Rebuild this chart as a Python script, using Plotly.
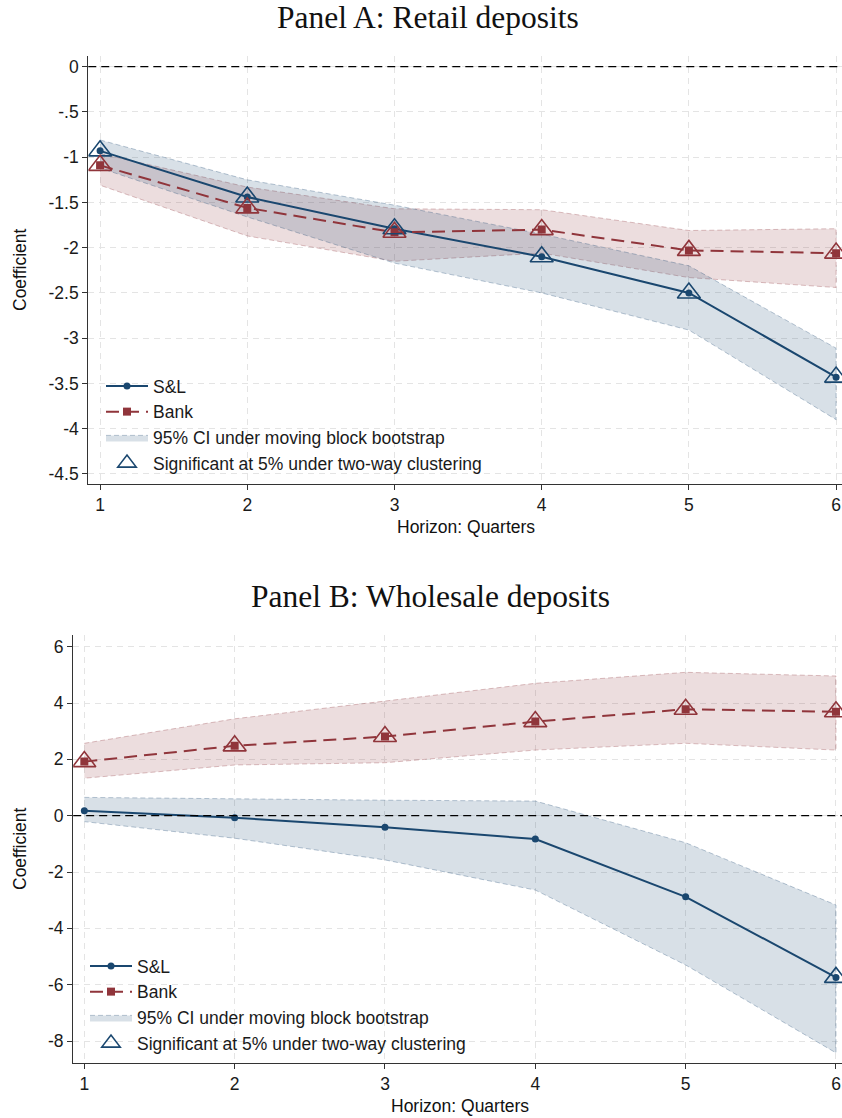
import plotly.graph_objects as go

# Horizon (quarters)
horizon = [1, 2, 3, 4, 5, 6]

# Panel A: retail deposits
retail_sl = [-0.93, -1.44, -1.79, -2.10, -2.50, -3.43]
retail_sl_lo = [-1.12, -1.66, -2.17, -2.50, -2.91, -3.90]
retail_sl_hi = [-0.81, -1.25, -1.53, -1.85, -2.20, -3.11]
retail_bank = [-1.09, -1.56, -1.83, -1.80, -2.03, -2.06]
retail_bank_lo = [-1.31, -1.87, -2.15, -2.06, -2.33, -2.44]
retail_bank_hi = [-0.96, -1.33, -1.57, -1.58, -1.81, -1.79]
retail_sl_sig = [1, 1, 1, 1, 1, 1]
retail_bank_sig = [1, 1, 1, 1, 1, 1]

# Panel B: wholesale deposits
whole_sl = [0.18, -0.07, -0.41, -0.83, -2.88, -5.74]
whole_sl_lo = [-0.21, -0.80, -1.57, -2.64, -5.30, -8.42]
whole_sl_hi = [0.65, 0.59, 0.55, 0.52, -0.96, -3.17]
whole_bank = [1.92, 2.48, 2.81, 3.34, 3.78, 3.69]
whole_bank_lo = [1.33, 1.80, 1.88, 2.33, 2.57, 2.33]
whole_bank_hi = [2.57, 3.44, 4.07, 4.70, 5.09, 4.96]
whole_sl_sig = [0, 0, 0, 0, 0, 1]
whole_bank_sig = [1, 1, 1, 1, 1, 1]

# Axis ticks
ticks_a = [0, -0.5, -1, -1.5, -2, -2.5, -3, -3.5, -4, -4.5]
ticklabels_a = ["0", "-.5", "-1", "-1.5", "-2", "-2.5", "-3", "-3.5", "-4", "-4.5"]
ticks_b = [6, 4, 2, 0, -2, -4, -6, -8]
ticklabels_b = ["6", "4", "2", "0", "-2", "-4", "-6", "-8"]

NAVY = "#1a476f"
MAROON = "#90353b"
NAVY_FILL = "rgba(26,71,111,0.17)"
MAROON_FILL = "rgba(144,53,59,0.17)"
NAVY_EDGE = "rgba(26,71,111,0.30)"
MAROON_EDGE = "rgba(144,53,59,0.30)"

W, H = 842, 1118
SANS = "Liberation Sans"
SERIF = "Liberation Serif"
FS = 17.5

fig = go.Figure()


def band(x, lo, hi, fill, edge, xa, ya, legend, show, name, rank):
    fig.add_trace(go.Scatter(
        x=list(x) + list(x)[::-1], y=list(hi) + list(lo)[::-1],
        fill="toself", fillcolor=fill, mode="lines",
        line=dict(color=edge, width=1, dash="5px,3px"),
        name=name, showlegend=show, legend=legend, legendrank=rank,
        legendgroup=legend + name, xaxis=xa, yaxis=ya, hoverinfo="skip"))


def series(x, y, color, dash, symbol, msize, xa, ya, legend, name, rank):
    fig.add_trace(go.Scatter(
        x=x, y=y, mode="lines+markers",
        line=dict(color=color, width=2, dash=dash),
        marker=dict(symbol=symbol, size=msize, color=color),
        name=name, legend=legend, legendrank=rank,
        legendgroup=legend + name, xaxis=xa, yaxis=ya))


def signif(x, y, flags, color, xa, ya, legend, show, name, rank):
    xs = [a for a, f in zip(x, flags) if f]
    ys = [b for b, f in zip(y, flags) if f]
    fig.add_trace(go.Scatter(
        x=xs, y=ys, mode="markers",
        marker=dict(symbol="triangle-up-open", size=20, color=color,
                    line=dict(width=1.6, color=color)),
        name=name, showlegend=show, legend=legend, legendrank=rank,
        legendgroup=legend + name + color, xaxis=xa, yaxis=ya))


SIG = "Significant at 5% under two-way clustering"
CI = "95% CI under moving block bootstrap"

# Panel A
band(horizon, retail_bank_lo, retail_bank_hi, MAROON_FILL, MAROON_EDGE, "x", "y", "legend", False, "Bank CI", 9)
band(horizon, retail_sl_lo, retail_sl_hi, NAVY_FILL, NAVY_EDGE, "x", "y", "legend", True, CI, 3)
series(horizon, retail_sl, NAVY, "solid", "circle", 7, "x", "y", "legend", "S&L", 1)
series(horizon, retail_bank, MAROON, "13px,7px", "square", 8, "x", "y", "legend", "Bank", 2)
signif(horizon, retail_sl, retail_sl_sig, NAVY, "x", "y", "legend", True, SIG, 4)
signif(horizon, retail_bank, retail_bank_sig, MAROON, "x", "y", "legend", False, SIG, 9)

# Panel B
band(horizon, whole_bank_lo, whole_bank_hi, MAROON_FILL, MAROON_EDGE, "x2", "y2", "legend2", False, "Bank CI", 9)
band(horizon, whole_sl_lo, whole_sl_hi, NAVY_FILL, NAVY_EDGE, "x2", "y2", "legend2", True, CI, 3)
series(horizon, whole_sl, NAVY, "solid", "circle", 7, "x2", "y2", "legend2", "S&L", 1)
series(horizon, whole_bank, MAROON, "13px,7px", "square", 8, "x2", "y2", "legend2", "Bank", 2)
signif(horizon, whole_sl, whole_sl_sig, NAVY, "x2", "y2", "legend2", True, SIG, 4)
signif(horizon, whole_bank, whole_bank_sig, MAROON, "x2", "y2", "legend2", False, SIG, 9)


def px_x(p):
    return p / W


def px_y(p):
    return 1 - p / H


axis_common = dict(
    showline=True, linecolor="#333333", linewidth=1.2,
    ticks="outside", ticklen=5, tickcolor="#333333", tickwidth=1.2,
    showgrid=True, gridcolor="#e4e4e4", gridwidth=1, griddash="6px,5px",
    zeroline=False, tickfont=dict(family=SANS, size=FS, color="#1a1a1a"),
)

legend_common = dict(
    xanchor="left", yanchor="top", bgcolor="rgba(0,0,0,0)",
    font=dict(family=SANS, size=FS, color="#1a1a1a"),
    itemwidth=42, tracegroupgap=0, traceorder="grouped",
)

fig.update_layout(
    width=W, height=H, margin=dict(l=0, r=0, t=0, b=0),
    plot_bgcolor="white", paper_bgcolor="white",
    xaxis=dict(axis_common, domain=[px_x(88.3), 1], range=[0.92, 6.04],
               tickvals=horizon, anchor="y"),
    yaxis=dict(axis_common, domain=[px_y(484.3), px_y(56)], range=[-4.614, 0.118],
               tickvals=ticks_a, ticktext=ticklabels_a, anchor="x"),
    xaxis2=dict(axis_common, domain=[px_x(73.2), 1], range=[0.926, 6.04],
                tickvals=horizon, anchor="y2"),
    yaxis2=dict(axis_common, domain=[px_y(1063.3), px_y(635)], range=[-8.79, 6.415],
                tickvals=ticks_b, ticktext=ticklabels_b, anchor="x2"),
    legend=dict(legend_common, x=px_x(101), y=px_y(368)),
    legend2=dict(legend_common, x=px_x(85), y=px_y(948)),
    showlegend=True,
)

# Dashed zero reference lines
for xr, yr in (("x", "y"), ("x2", "y2")):
    fig.add_shape(type="line", xref=xr + " domain", yref=yr, x0=0, x1=1, y0=0, y1=0,
                  line=dict(color="black", width=1.3, dash="8px,5px"), layer="above")

# Panel titles and axis titles
annotations = [
    ("Panel A: Retail deposits", 428, 17, SERIF, 31.5, 0),
    ("Panel B: Wholesale deposits", 430, 596, SERIF, 31.5, 0),
    ("Horizon: Quarters", 466, 527, SANS, FS, 0),
    ("Horizon: Quarters", 460, 1106, SANS, FS, 0),
    ("Coefficient", 20, 270, SANS, FS, -90),
    ("Coefficient", 20, 849, SANS, FS, -90),
]
for text, ax, ay, fam, size, ang in annotations:
    fig.add_annotation(text=text, x=px_x(ax), y=px_y(ay), xref="paper", yref="paper",
                       xanchor="center", yanchor="middle", showarrow=False,
                       textangle=ang, font=dict(family=fam, size=size, color="#111111"))

fig.write_html("out.html")
